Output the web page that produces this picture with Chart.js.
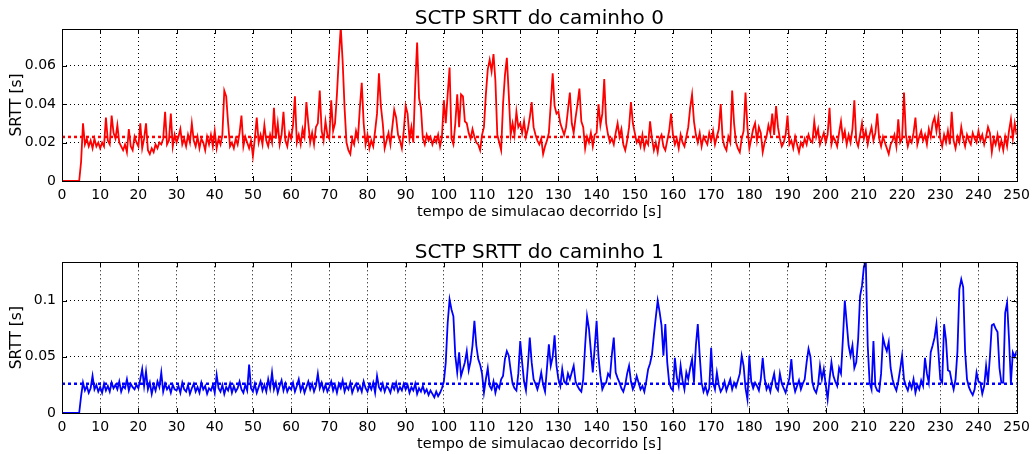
<!DOCTYPE html>
<html>
<head>
<meta charset="utf-8">
<script src="https://cdn.jsdelivr.net/npm/chart.js@4/dist/chart.umd.min.js"></script>
<style>
  body { margin: 0; background: #fff; }
  .plot { position: absolute; left: 0; width: 1036px; height: 227px; }
</style>
</head>
<body>
<div class="plot" style="top:0"><canvas id="path0" width="1036" height="227"></canvas></div>
<div class="plot" style="top:227px"><canvas id="path1" width="1036" height="227"></canvas></div>
<script>
'use strict';
// SRTT samples in milliseconds, one every 0.5 s from t = 0 to t = 250 s
const timeStep = 0.5;
const timeMin = 0;
const timeMax = 250;

const srtt0Ms = [
    0,0,0,0,0,0,0,0,0,0,10,30,19,22,18,21,17,22,18,20,
    17,20,18,33,21,19,34,25,22,29,20,18,16,19,15,27,18,16,23,20,
    18,30,17,22,30,16,14,17,15,19,17,20,19,22,36,19,21,35,18,24,
    20,23,27,19,22,18,24,20,30,21,18,23,17,22,20,16,23,19,24,18,
    26,17,22,19,24,47,44,30,18,20,17,22,19,25,34,18,23,20,17,21,
    13,22,33,20,24,19,29,21,18,24,20,38,22,30,19,24,36,21,18,25,
    22,29,44,20,24,19,27,23,41,30,20,25,19,28,30,47,26,21,31,24,
    22,42,26,30,45,64,80,62,38,20,16,14,22,19,26,22,38,51,30,19,
    24,17,21,18,26,35,56,39,30,17,21,25,19,28,37,33,24,21,17,26,
    39,35,22,28,20,50,72,43,38,22,19,24,21,23,19,22,20,24,18,23,
    42,30,45,59,22,19,30,45,28,45,44,31,30,25,22,27,23,20,19,16,
    24,28,45,58,63,57,66,52,24,20,16,40,55,64,45,24,30,24,36,28,
    30,25,31,23,27,33,41,28,24,21,19,22,14,18,21,25,40,56,39,35,
    36,30,27,24,28,37,46,30,25,33,40,48,31,28,17,23,20,25,18,24,
    25,40,29,35,53,30,24,20,22,19,25,30,23,27,19,16,21,28,41,30,
    25,20,22,18,24,17,21,19,31,22,16,20,15,22,24,18,16,21,26,35,
    24,19,22,17,24,20,18,23,28,38,45,31,24,20,25,18,23,21,19,25,
    21,26,19,23,27,40,22,18,16,23,20,47,30,20,17,15,22,26,46,28,
    17,22,27,30,21,28,25,15,20,23,29,25,35,24,39,28,22,18,20,24,
    34,19,21,17,23,19,15,20,18,22,19,24,21,20,31,23,27,19,22,25,
    20,24,38,19,23,21,18,25,31,22,26,19,24,20,27,42,21,18,24,30,
    22,26,19,24,28,21,25,35,22,18,23,20,17,14,19,21,24,18,32,20,
    22,46,24,18,22,20,25,33,19,23,26,21,24,19,27,23,30,33,26,33,
    22,18,24,20,26,19,36,21,17,23,20,28,22,18,24,21,19,25,22,20,
    26,21,24,19,23,28,25,15,22,19,24,17,21,16,23,18,26,32,22,30,
    24
];

const srtt1Ms = [
    0,0,0,0,0,0,0,0,0,0,15,27,20,24,18,22,33,21,25,19,
    23,18,26,20,24,19,27,22,25,21,28,19,24,22,30,20,26,23,21,25,
    22,30,39,24,37,21,27,17,25,20,28,23,36,19,26,21,24,18,25,21,
    20,24,18,27,21,19,25,17,22,26,19,23,18,27,21,24,17,22,20,25,
    18,34,22,19,25,17,23,20,26,18,24,19,22,28,21,18,25,20,43,22,
    19,26,18,23,28,20,25,19,30,22,36,21,27,18,24,29,20,26,19,23,
    21,27,19,24,30,20,25,18,23,28,21,26,19,24,35,22,27,20,25,19,
    23,28,20,25,18,26,22,29,19,24,21,27,18,23,26,20,24,19,28,22,
    19,25,21,27,18,33,23,20,26,19,24,22,18,25,21,27,19,23,20,26,
    21,25,18,23,20,26,17,22,19,24,18,21,16,20,17,14,19,15,18,22,
    28,45,80,101,92,86,51,36,54,33,39,45,55,38,46,60,82,60,48,43,
    35,18,30,40,24,21,28,18,25,22,30,33,48,55,51,38,26,22,20,35,
    64,45,28,20,42,67,45,30,26,21,27,36,25,19,40,61,42,50,69,42,
    30,24,39,28,26,35,30,36,42,28,24,21,19,30,60,86,75,55,36,58,
    82,50,33,21,25,27,35,32,52,67,36,31,27,22,19,25,35,42,28,21,
    25,33,27,21,24,19,28,39,44,52,69,85,100,90,78,51,79,45,27,22,
    20,49,32,24,42,29,21,36,30,40,48,27,60,79,51,27,19,24,17,22,
    58,27,21,36,25,19,22,28,20,25,30,21,27,23,29,35,51,42,22,12,
    51,28,22,27,24,20,30,49,31,21,25,19,28,35,23,20,35,26,22,18,
    25,31,48,27,19,24,29,21,26,30,45,57,50,27,21,18,25,42,30,39,
    25,12,30,45,33,28,24,40,35,66,100,80,60,51,60,40,45,66,104,113,
    130,135,60,27,21,64,24,20,19,35,67,60,55,63,40,30,24,20,28,39,
    51,30,24,20,27,22,30,18,25,21,29,24,49,35,27,54,60,67,79,55,
    30,27,79,65,38,37,28,21,30,55,110,119,112,55,30,23,19,16,21,36,
    28,27,17,24,42,27,50,78,79,75,72,40,27,27,89,98,66,26,54,50,
    55
];

// mean SRTT (s), drawn as the dotted horizontal line
const mean0 = 0.0229;
const mean1 = 0.026;

const titles = ['SCTP SRTT do caminho 0', 'SCTP SRTT do caminho 1'];
const xLabel = 'tempo de simulacao decorrido [s]';
const yLabel = 'SRTT [s]';
const xTickStep = 10;

const FONT = 'DejaVu Sans';

// MATLAB style frame: full box plus short inward tick marks
const matlabBox = {
    id: 'matlabBox',
    afterDatasetsDraw(chart) {
        const {ctx, chartArea: a, scales} = chart;
        const len = 5;
        ctx.save();
        ctx.strokeStyle = '#000';
        ctx.lineWidth = 1;
        ctx.beginPath();
        scales.x.ticks.forEach(t => {
            const px = Math.round(scales.x.getPixelForValue(t.value)) + 0.5;
            ctx.moveTo(px, a.bottom); ctx.lineTo(px, a.bottom - len);
            ctx.moveTo(px, a.top); ctx.lineTo(px, a.top + len);
        });
        scales.y.ticks.forEach(t => {
            const py = Math.round(scales.y.getPixelForValue(t.value)) + 0.5;
            ctx.moveTo(a.left, py); ctx.lineTo(a.left + len, py);
            ctx.moveTo(a.right, py); ctx.lineTo(a.right - len, py);
        });
        ctx.stroke();
        ctx.strokeRect(Math.round(a.left) + 0.5, Math.round(a.top) + 0.5,
            Math.round(a.right - a.left), Math.round(a.bottom - a.top));
        ctx.restore();
    }
};

function toPoints(ms) {
    return ms.map((v, i) => ({x: timeMin + i * timeStep, y: v / 1000}));
}

function makeChart(id, cfg) {
    const ctx = document.getElementById(id).getContext('2d');
    new Chart(ctx, {
        type: 'line',
        data: {
            datasets: [{
                data: toPoints(cfg.values),
                borderColor: cfg.color,
                borderWidth: 1.8,
                pointRadius: 0,
                tension: 0
            }, {
                data: [{x: timeMin, y: cfg.mean}, {x: timeMax, y: cfg.mean}],
                borderColor: cfg.color,
                borderWidth: 2.5,
                borderDash: [3, 3],
                pointRadius: 0
            }]
        },
        options: {
            responsive: false,
            animation: false,
            events: [],
            layout: {padding: {left: 0, right: 16, top: 0, bottom: 0}},
            plugins: {
                legend: {display: false},
                tooltip: {enabled: false},
                title: {
                    display: true,
                    text: cfg.title,
                    fullSize: false,
                    color: '#000',
                    font: {family: FONT, size: 20, weight: 'normal', lineHeight: 1},
                    padding: {top: cfg.titleTop, bottom: 0}
                }
            },
            scales: {
                x: {
                    type: 'linear',
                    min: timeMin,
                    max: timeMax,
                    afterFit: s => { s.height = cfg.xHeight; },
                    grid: {color: '#000', lineWidth: 1, drawTicks: false},
                    border: {display: false, dash: [1, 3]},
                    ticks: {
                        stepSize: xTickStep,
                        autoSkip: false,
                        maxRotation: 0,
                        padding: 6,
                        color: '#000',
                        font: {family: FONT, size: 14}
                    },
                    title: {
                        display: true,
                        text: xLabel,
                        color: '#000',
                        font: {family: FONT, size: 14.5},
                        padding: {top: 0, bottom: cfg.xTitleBottom}
                    }
                },
                y: {
                    min: 0,
                    max: cfg.yMax,
                    afterFit: s => { s.width = 62; },
                    grid: {color: '#000', lineWidth: 1, drawTicks: false},
                    border: {display: false, dash: [1, 3]},
                    ticks: {
                        stepSize: cfg.yStep,
                        includeBounds: false,
                        padding: 6,
                        color: '#000',
                        font: {family: FONT, size: 14},
                        callback: v => String(Number(v.toFixed(3)))
                    },
                    title: {
                        display: true,
                        text: yLabel,
                        color: '#000',
                        font: {family: FONT, size: 15.5},
                        padding: {top: 7.7, bottom: 0}
                    }
                }
            }
        },
        plugins: [matlabBox]
    });
}

makeChart('path0', {
    values: srtt0Ms, mean: mean0, color: '#ff0000', title: titles[0],
    yMax: 0.079, yStep: 0.02, titleTop: 9, xHeight: 46, xTitleBottom: 5.8
});
makeChart('path1', {
    values: srtt1Ms, mean: mean1, color: '#0000ff', title: titles[1],
    yMax: 0.134, yStep: 0.05, titleTop: 15.3, xHeight: 41, xTitleBottom: 1.3
});
</script>
</body>
</html>
